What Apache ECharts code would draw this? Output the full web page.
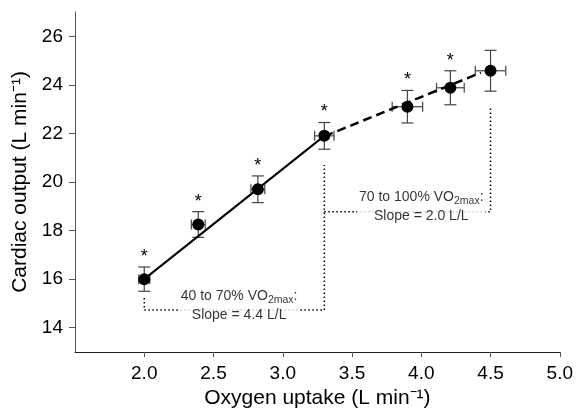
<!DOCTYPE html>
<html>
<head>
<meta charset="utf-8">
<script src="https://cdn.jsdelivr.net/npm/echarts@6/dist/echarts.min.js"></script>
<style>html,body{margin:0;padding:0;background:#fff}#c{width:576px;height:414px}</style>
</head>
<body>
<div id="c"></div>
<script>
// ---- data ----
const vo2 = [2.00, 2.39, 2.82, 3.30, 3.90, 4.21, 4.50];          // L/min
const cardiacOutput = [16.0, 18.25, 19.7, 21.9, 23.1, 23.88, 24.58]; // L/min
const vo2Err = [0.04, 0.05, 0.05, 0.07, 0.11, 0.10, 0.11];
const coErr = [0.50, 0.53, 0.55, 0.55, 0.67, 0.70, 0.84];
const significant = [1, 1, 1, 1, 1, 1, 0];
const fit1X = [2.00, 3.30];
const fit1Y = [16.0, 21.9];
const fit2X = [3.30, 4.43];
const fit2Y = [21.88, 24.5];
const xTicks = [2.0, 2.5, 3.0, 3.5, 4.0, 4.5, 5.0];
const yTicks = [14, 16, 18, 20, 22, 24, 26];
const label1Lines = ['40 to 70% VO', '2max', ':', 'Slope = 4.4 L/L'];
const label2Lines = ['70 to 100% VO', '2max', ':', 'Slope = 2.0 L/L'];

// ---- annotation layout (data units) ----
const bracket1 = [[2.00, 15.22], [2.00, 14.73], [3.30, 14.73], [3.30, 20.7]];
const bracket2 = [[3.30, 18.77], [4.50, 18.77], [4.50, 23.09]];
const label1Pos = [2.685, 14.9];
const label2Pos = [4.0, 18.97];

const FONT = "'Liberation Sans', Arial, sans-serif";
const chart = echarts.init(document.getElementById('c'), null, {renderer: 'canvas'});

const pts = vo2.map((x, i) => [x, cardiacOutput[i], vo2Err[i], coErr[i], significant[i]]);

function richLabel(l) {
  return '{t|' + l[0] + '}{s|' + l[1] + '}{t|' + l[2] + '}\n{t|' + l[3] + '}';
}
const rich = {
  t: {fontSize: 14, fontFamily: FONT, color: '#000', lineHeight: 19},
  s: {fontSize: 10.5, fontFamily: FONT, color: '#000', lineHeight: 12, verticalAlign: 'bottom'}
};

const option = {
  animation: false,
  backgroundColor: '#fff',
  grid: {left: 75, right: 15, top: 12, bottom: 62},
  xAxis: {
    type: 'value', min: 1.5, max: 5.0,
    name: 'Oxygen uptake (L min\u207B\u00B9)',
    nameLocation: 'middle', nameGap: 28,
    nameTextStyle: {fontSize: 21, fontFamily: FONT, color: '#000'},
    axisLine: {show: true, onZero: false, lineStyle: {color: '#222', width: 1}},
    axisTick: {show: true, length: 5, lineStyle: {color: '#555'}, customValues: xTicks},
    axisLabel: {fontSize: 19, fontFamily: FONT, color: '#000', margin: 12,
      customValues: xTicks, formatter: v => v.toFixed(1)},
    splitLine: {show: false}
  },
  yAxis: {
    type: 'value', min: 13, max: 27,
    name: 'Cardiac output (L min\u207B\u00B9)',
    nameLocation: 'middle', nameGap: 41,
    nameTextStyle: {fontSize: 21, fontFamily: FONT, color: '#000'},
    axisLine: {show: true, onZero: false, lineStyle: {color: '#555', width: 1}},
    axisTick: {show: true, length: 6, lineStyle: {color: '#555'}, customValues: yTicks},
    axisLabel: {fontSize: 19, fontFamily: FONT, color: '#000', margin: 12,
      customValues: yTicks},
    splitLine: {show: false}
  },
  series: [
    {
      type: 'line', name: 'bracket1', data: bracket1, symbol: 'none', z: 1,
      lineStyle: {color: '#000', width: 1.5, type: [1.5, 2.5]}, silent: true
    },
    {
      type: 'line', name: 'bracket2', data: bracket2, symbol: 'none', z: 1,
      lineStyle: {color: '#000', width: 1.5, type: [1.5, 2.5]}, silent: true
    },
    {
      type: 'custom', name: 'errors', z: 2,
      data: pts,
      renderItem: function (params, api) {
        const x = api.value(0), y = api.value(1), ex = api.value(2), ey = api.value(3), sig = api.value(4);
        const c = api.coord([x, y]);
        const top = api.coord([x, y + ey]);
        const bot = api.coord([x, y - ey]);
        const lft = api.coord([x - ex, y]);
        const rgt = api.coord([x + ex, y]);
        const st = {stroke: '#444', lineWidth: 1.2};
        const cw = 6, ch = 5;
        const children = [
          {type: 'line', shape: {x1: c[0], y1: top[1], x2: c[0], y2: bot[1]}, style: st},
          {type: 'line', shape: {x1: c[0] - cw, y1: top[1], x2: c[0] + cw, y2: top[1]}, style: st},
          {type: 'line', shape: {x1: c[0] - cw, y1: bot[1], x2: c[0] + cw, y2: bot[1]}, style: st},
          {type: 'line', shape: {x1: lft[0], y1: c[1], x2: rgt[0], y2: c[1]}, style: st},
          {type: 'line', shape: {x1: lft[0], y1: c[1] - ch, x2: lft[0], y2: c[1] + ch}, style: st},
          {type: 'line', shape: {x1: rgt[0], y1: c[1] - ch, x2: rgt[0], y2: c[1] + ch}, style: st}
        ];
        if (sig) {
          children.push({type: 'text', style: {text: '*', x: c[0], y: top[1] - 10,
            align: 'center', verticalAlign: 'middle', fontSize: 18, fontFamily: FONT, fill: '#000'}});
        }
        return {type: 'group', children: children};
      }
    },
    {
      type: 'line', name: 'fit1', z: 3, symbol: 'none',
      data: fit1X.map((x, i) => [x, fit1Y[i]]),
      lineStyle: {color: '#000', width: 2}
    },
    {
      type: 'line', name: 'fit2', z: 3, symbol: 'none',
      data: fit2X.map((x, i) => [x, fit2Y[i]]),
      lineStyle: {color: '#000', width: 2.5, type: [9, 5]}
    },
    {
      type: 'scatter', name: 'means', z: 4, symbol: 'circle', symbolSize: 12,
      data: vo2.map((x, i) => [x, cardiacOutput[i]]),
      itemStyle: {color: '#000', opacity: 1}
    },
    {
      type: 'scatter', name: 'labels', z: 5, symbolSize: 0, silent: true,
      data: [
        {value: label1Pos, label: {formatter: richLabel(label1Lines)}},
        {value: label2Pos, label: {formatter: richLabel(label2Lines)}}
      ],
      label: {show: true, position: 'inside', backgroundColor: '#fff', padding: [0, 2],
        align: 'center', verticalAlign: 'middle', rich: rich}
    }
  ]
};
chart.setOption(option);
</script>
</body>
</html>
